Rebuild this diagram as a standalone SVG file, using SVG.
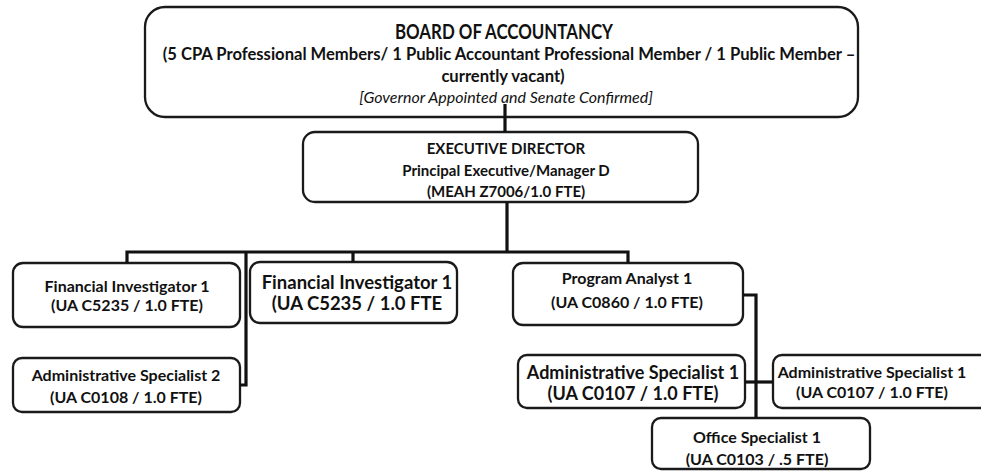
<svg xmlns="http://www.w3.org/2000/svg" width="981" height="471" viewBox="0 0 981 471">
<style>
.box{fill:#fff;stroke:#1a1a1a;stroke-width:2.3}
.t{font-family:Lato,"Liberation Sans",sans-serif;font-weight:bold;fill:#111;text-anchor:middle}
.it{font-style:italic;font-weight:normal}
.c{fill:none;stroke:#111;stroke-width:3.2}
</style>
<rect width="981" height="471" fill="#fff"/>
<g id="board">
<rect class="box" x="145" y="7" width="713" height="110" rx="20"/>
<text class="t" x="504" y="39" font-size="20.5" textLength="218" lengthAdjust="spacingAndGlyphs">BOARD OF ACCOUNTANCY</text>
<text class="t" x="509" y="60" font-size="16.6">(5 CPA Professional Members/ 1 Public Accountant Professional Member / 1 Public Member –</text>
<text class="t" x="503" y="82" font-size="16.6">currently vacant)</text>
<text class="t it" x="506" y="103" font-size="16">[Governor Appointed and Senate Confirmed]</text>
</g>
<g id="exec">
<rect class="box" x="303" y="132" width="395" height="70" rx="12"/>
<text class="t" x="506" y="154" font-size="15">EXECUTIVE DIRECTOR</text>
<text class="t" x="506" y="176" font-size="15">Principal Executive/Manager D</text>
<text class="t" x="506" y="197" font-size="15">(MEAH Z7006/1.0 FTE)</text>
</g>
<g id="fi1">
<rect class="box" x="13" y="263" width="227" height="64" rx="10"/>
<text class="t" x="127" y="292" font-size="16">Financial Investigator 1</text>
<text class="t" x="127" y="311" font-size="16">(UA C5235 / 1.0 FTE)</text>
</g>
<g id="fi2">
<rect class="box" x="250" y="262" width="207" height="61" rx="10"/>
<text class="t" x="357" y="289" font-size="18.5">Financial Investigator 1</text>
<text class="t" x="357" y="310" font-size="18.5">(UA C5235 / 1.0 FTE</text>
</g>
<g id="pa">
<rect class="box" x="513" y="263" width="230" height="62" rx="10"/>
<text class="t" x="627" y="284" font-size="16">Program Analyst 1</text>
<text class="t" x="627" y="308" font-size="16">(UA C0860 / 1.0 FTE)</text>
</g>
<g id="as2">
<rect class="box" x="13" y="358" width="227" height="54" rx="9"/>
<text class="t" x="126" y="381" font-size="16">Administrative Specialist 2</text>
<text class="t" x="126" y="403" font-size="16">(UA C0108 / 1.0 FTE)</text>
</g>
<g id="as1a">
<rect class="box" x="518" y="355" width="227" height="53" rx="9"/>
<text class="t" x="633" y="379" font-size="18">Administrative Specialist 1</text>
<text class="t" x="633" y="400" font-size="18">(UA C0107 / 1.0 FTE)</text>
</g>
<g id="as1b">
<rect class="box" x="773" y="355" width="220" height="53" rx="9"/>
<text class="t" x="872" y="378" font-size="16">Administrative Specialist 1</text>
<text class="t" x="872" y="398" font-size="16">(UA C0107 / 1.0 FTE)</text>
</g>
<g id="os1">
<rect class="box" x="652" y="418" width="218" height="51" rx="9"/>
<text class="t" x="757" y="443" font-size="16">Office Specialist 1</text>
<text class="t" x="757" y="465" font-size="16">(UA C0103 / .5 FTE)</text>
</g>
<g id="connectors">
<path class="c" d="M505,104 V132"/>
<path class="c" d="M507,202 V252"/>
<path class="c" d="M127,263 V252 H628 V263"/>
<path class="c" d="M353,252 V262"/>
<path class="c" d="M246,252 V385 H240"/>
<path class="c" d="M743,295 H756 V418"/>
<path class="c" d="M745,382 H773"/>
</g>
</svg>
